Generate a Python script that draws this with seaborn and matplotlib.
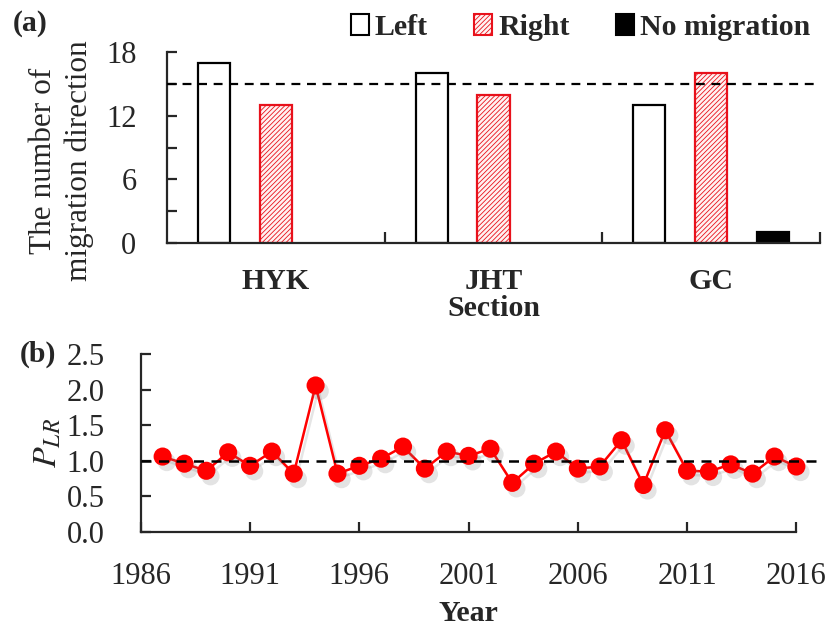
import numpy as np
import pandas as pd
import matplotlib
matplotlib.use("Agg")
import matplotlib.pyplot as plt
import matplotlib.patheffects as pe
from matplotlib.patches import Patch
from matplotlib.ticker import MultipleLocator, FixedLocator, FormatStrFormatter
import seaborn as sns

# ---------------- data ----------------
sections = ["HYK", "JHT", "GC"]
directions = ["Left", "Right", "No migration"]
left_counts = [17, 16, 13]
right_counts = [13, 14, 16]
none_counts = [0, 0, 1]
count_ref = 15

years = list(range(1987, 2017))
plr = [1.06, 0.96, 0.86, 1.12, 0.93, 1.13, 0.82, 2.06, 0.82, 0.93,
       1.03, 1.20, 0.89, 1.13, 1.07, 1.17, 0.69, 0.96, 1.13, 0.89,
       0.92, 1.29, 0.66, 1.43, 0.86, 0.85, 0.95, 0.82, 1.06, 0.92]
plr_ref = 1.0
year_ticks = [1986, 1991, 1996, 2001, 2006, 2011, 2016]

df_bar = pd.DataFrame({
    "Section": np.repeat(sections, 3),
    "Direction": directions * 3,
    "Count": [v for trio in zip(left_counts, right_counts, none_counts) for v in trio],
})
df_line = pd.DataFrame({"Year": years, "PLR": plr})

# ---------------- style ----------------
sns.set_theme(style="white")
plt.rcParams["font.family"] = ["Liberation Serif", "DejaVu Serif"]
plt.rcParams["mathtext.fontset"] = "stix"
plt.rcParams["hatch.linewidth"] = 0.6
plt.rcParams["axes.linewidth"] = 1.6

FS = 21.5

fig = plt.figure(figsize=(8.33, 6.28), dpi=100)
ax1 = fig.add_axes([0.2005, 0.613, 0.784, 0.304])
ax2 = fig.add_axes([0.169, 0.153, 0.787, 0.283])

# ---------------- panel (a) ----------------
sns.barplot(data=df_bar, x="Section", y="Count", hue="Direction",
            hue_order=directions, order=sections, ax=ax1,
            width=0.853, gap=0.48, legend=False)
styles = [
    dict(facecolor="white", edgecolor="black", hatch=None),
    dict(facecolor="#fff2f2", edgecolor="#e8111b", hatch="///////"),
    dict(facecolor="black", edgecolor="black", hatch=None),
]
for cont, st in zip(ax1.containers, styles):
    for bar in cont:
        bar.set_facecolor(st["facecolor"])
        bar.set_edgecolor(st["edgecolor"])
        bar.set_linewidth(1.6)
        if st["hatch"]:
            bar.set_hatch(st["hatch"])
        if bar.get_height() == 0:
            bar.set_visible(False)

ax1.axhline(count_ref, color="black", ls=(0, (4, 3)), lw=1.6, zorder=3)
ax1.set_xlim(-0.5, 2.5)
ax1.set_ylim(0, 18)
ax1.yaxis.set_major_locator(MultipleLocator(6))
ax1.yaxis.set_minor_locator(MultipleLocator(3))
ax1.xaxis.set_minor_locator(FixedLocator([0.5, 1.5, 2.5]))
ax1.tick_params(axis="y", which="both", direction="in", length=7, width=1.6,
                left=True, labelsize=FS + 0.5, pad=22)
ax1.tick_params(axis="x", which="major", length=0, labelsize=FS, pad=18)
ax1.tick_params(axis="x", which="minor", direction="in", length=8, width=1.6,
                bottom=True)
for lab in ax1.get_xticklabels():
    lab.set_fontweight("bold")
ax1.set_xlabel("Section", fontsize=FS, fontweight="bold", labelpad=0)
ax1.set_ylabel("The number of\nmigration direction", fontsize=FS + 1,
               linespacing=1.3)
ax1.yaxis.set_label_coords(-0.112, 0.43)
sns.despine(ax=ax1)

handles = [
    Patch(facecolor="white", edgecolor="black", lw=1.5),
    Patch(facecolor="#fff2f2", edgecolor="#e8111b", hatch="///////", lw=1.5),
    Patch(facecolor="black", edgecolor="black", lw=1.5),
]
fig.legend(handles, directions, loc="center", bbox_to_anchor=(0.697, 0.957),
           ncol=3, frameon=False, handlelength=0.6, handleheight=0.7,
           handletextpad=0.2, columnspacing=1.55,
           prop=dict(size=FS, weight="bold"))
fig.text(0.015, 0.962, "(a)", fontsize=FS, fontweight="bold", va="center")

# ---------------- panel (b) ----------------
sns.lineplot(data=df_line, x="Year", y="PLR", color="#ff0000", lw=1.8,
             ax=ax2, zorder=3,
             path_effects=[pe.SimpleLineShadow(offset=(2, -3),
                                               shadow_color="gray", alpha=0.2),
                           pe.Normal()])
sns.scatterplot(data=df_line, x="Year", y="PLR", color="#ff0000", s=170,
                edgecolor="none", ax=ax2, zorder=4, clip_on=False)
ax2.collections[-1].set_path_effects([
    pe.SimplePatchShadow(offset=(3, -4), shadow_rgbFace="gray", alpha=0.22),
    pe.Normal()])
ax2.axhline(plr_ref, xmin=0, xmax=1.03, color="black", ls=(0, (4, 3)), lw=1.8,
            zorder=5, clip_on=False)
ax2.set_xlim(year_ticks[0], year_ticks[-1])
ax2.set_ylim(0, 2.5)
ax2.set_xticks(year_ticks)
ax2.yaxis.set_major_locator(MultipleLocator(0.5))
ax2.yaxis.set_major_formatter(FormatStrFormatter("%.1f"))
ax2.tick_params(axis="both", which="major", direction="in", length=7,
                width=1.6, left=True, bottom=True, labelsize=FS + 0.5)
ax2.tick_params(axis="x", pad=22)
ax2.tick_params(axis="y", pad=26)
ax2.set_xlabel("Year", fontsize=FS, fontweight="bold", labelpad=6)
ax2.set_ylabel("$P_{LR}$", fontsize=FS + 3, labelpad=2)
sns.despine(ax=ax2)
fig.text(0.024, 0.435, "(b)", fontsize=FS, fontweight="bold", va="center")

fig.savefig("out.png", dpi=100)
